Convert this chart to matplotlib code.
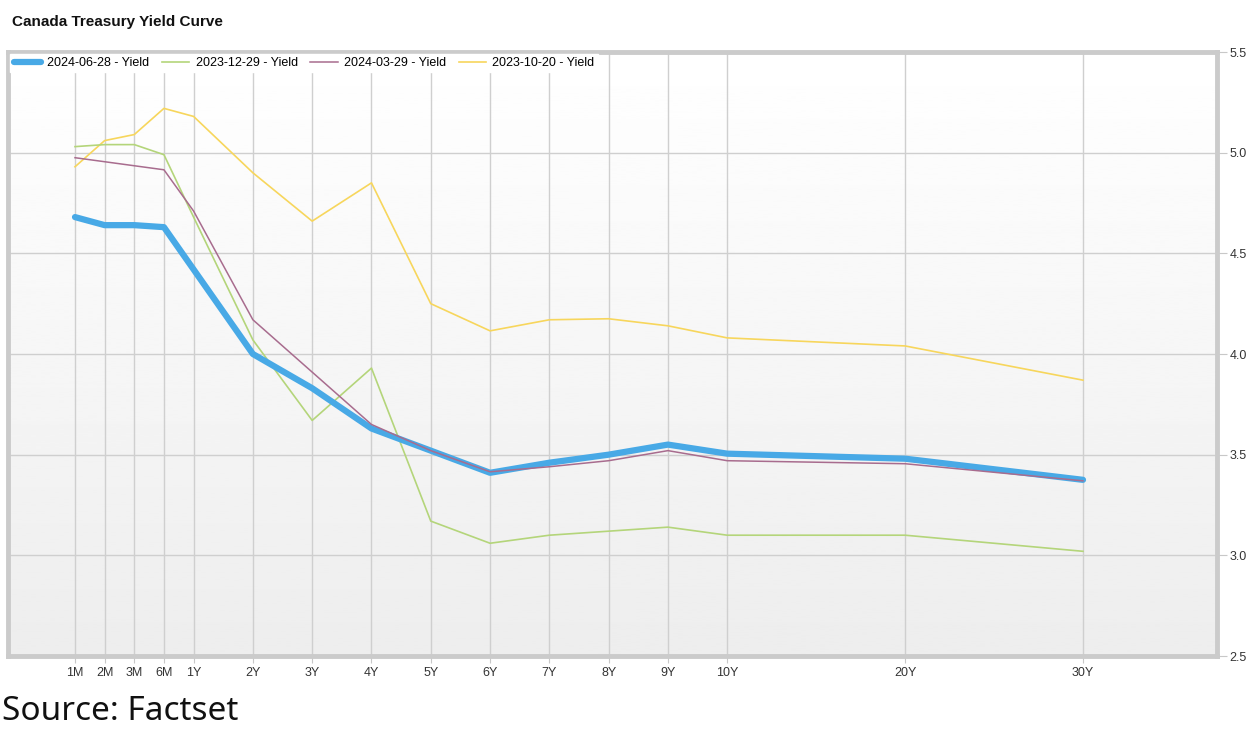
import matplotlib
matplotlib.use("Agg")
import matplotlib.pyplot as plt
import numpy as np

# Tenors and their slot on the chart's (non-linear) tenor axis
tenors = ["1M", "2M", "3M", "6M", "1Y", "2Y", "3Y", "4Y", "5Y", "6Y", "7Y", "8Y", "9Y", "10Y", "20Y", "30Y"]
tenor_pos = [0, 0.5, 1, 1.5, 2, 3, 4, 5, 6, 7, 8, 9, 10, 11, 14, 17]

# Yields (%)
y_2024_06_28 = [4.68, 4.64, 4.64, 4.63, 4.42, 4.00, 3.83, 3.63, 3.52, 3.41, 3.46, 3.50, 3.55, 3.505, 3.48, 3.375]
y_2023_12_29 = [5.03, 5.04, 5.04, 4.99, 4.68, 4.07, 3.67, 3.93, 3.17, 3.06, 3.10, 3.12, 3.14, 3.10, 3.10, 3.02]
y_2024_03_29 = [4.975, 4.955, 4.935, 4.915, 4.71, 4.17, 3.91, 3.65, 3.52, 3.415, 3.44, 3.47, 3.52, 3.47, 3.455, 3.37]
y_2023_10_20 = [4.93, 5.06, 5.09, 5.22, 5.18, 4.90, 4.66, 4.85, 4.25, 4.115, 4.17, 4.175, 4.14, 4.08, 4.04, 3.87]

y_ticks = [2.5, 3.0, 3.5, 4.0, 4.5, 5.0, 5.5]

plt.rcParams['font.family'] = ['Liberation Sans', 'DejaVu Sans']

fig = plt.figure(figsize=(12.5, 7.4), dpi=100)
ax = fig.add_axes([8 / 1250, 1 - 656 / 740, (1217 - 8) / 1250, (656 - 52) / 740])

# Soft vertical gradient background
grad = np.linspace(1.0, 0.93, 256).reshape(-1, 1)
ax.imshow(grad, cmap='gray', vmin=0, vmax=1, aspect='auto', extent=[0, 1, 0, 1],
          transform=ax.transAxes, zorder=0)

ax.plot(tenor_pos, y_2023_10_20, color='#f7d65c', lw=1.2, label='2023-10-20 - Yield', zorder=3)
ax.plot(tenor_pos, y_2023_12_29, color='#b4d57a', lw=1.2, label='2023-12-29 - Yield', zorder=3)
ax.plot(tenor_pos, y_2024_06_28, color='#48a9e6', lw=4.5, label='2024-06-28 - Yield', zorder=4,
        solid_capstyle='round', solid_joinstyle='round')
ax.plot(tenor_pos, y_2024_03_29, color='#a86c8e', lw=1.1, label='2024-03-29 - Yield', zorder=5)

ax.set_xlim(-1.13, 19.26)
ax.set_ylim(2.5, 5.5)
ax.set_xticks(tenor_pos)
ax.set_xticklabels(tenors)
ax.set_yticks(y_ticks)
ax.set_yticklabels([f"{v:.1f}" for v in y_ticks])
ax.yaxis.tick_right()
ax.grid(True, color='#cfcfcf', lw=1.0, zorder=1)
ax.set_axisbelow(True)
ax.tick_params(axis='x', length=5, color='#c8c8c8', labelsize=9, labelcolor='#333333', pad=3)
ax.tick_params(axis='y', length=7, color='#c8c8c8', labelsize=9, labelcolor='#333333', pad=2)
for s in ax.spines.values():
    s.set_color('#cbcbcb')
    s.set_linewidth(3.5)

# Legend in chart order
handles, labels = ax.get_legend_handles_labels()
order = [2, 1, 3, 0]
leg = ax.legend([handles[i] for i in order], [labels[i] for i in order],
                loc='upper left', bbox_to_anchor=(0.002, 0.997), ncol=4, fontsize=9,
                frameon=True, fancybox=False, framealpha=1, facecolor='white', edgecolor='white',
                borderaxespad=0, handlelength=2.2, handletextpad=0.5, columnspacing=1.0,
                borderpad=0.25)
leg.set_zorder(10)

fig.text(12 / 1250, 1 - 22 / 740, "Canada Treasury Yield Curve", fontsize=11, fontweight='bold',
         va='center', ha='left', color='#111111')
fig.text(2 / 1250, 1 - 712 / 740, "Source: Factset", fontsize=24, va='center', ha='left',
         family=['Noto Sans', 'DejaVu Sans'], color='#111111')

fig.savefig("out.png", dpi=100, facecolor='white')
